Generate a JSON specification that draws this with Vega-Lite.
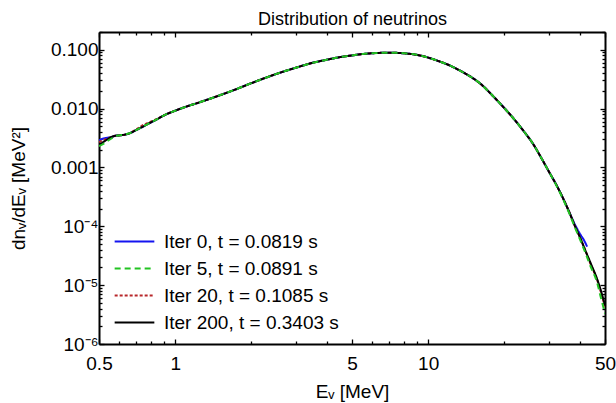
{
  "$schema": "https://vega.github.io/schema/vega-lite/v6.json",
  "width": 506,
  "height": 312,
  "autosize": {"type": "none"},
  "padding": {"left": 99, "top": 32, "right": 11, "bottom": 59},
  "background": "white",
  "config": {
    "font": "Liberation Sans",
    "view": {"stroke": null},
    "axis": {
      "grid": false,
      "domainColor": "black",
      "domainWidth": 2,
      "tickColor": "black",
      "tickWidth": 1.3,
      "labelFont": "Liberation Sans",
      "labelFontSize": 19,
      "labelColor": "black",
      "titleFont": "Liberation Sans",
      "titleFontSize": 19,
      "titleFontWeight": "normal",
      "titleColor": "black",
      "labelOverlap": false,
      "labelFlush": false
    },
    "legend": {
      "labelFont": "Liberation Sans",
      "labelFontSize": 19,
      "labelColor": "black",
      "labelLimit": 400
    }
  },
  "data": {
    "values": [
      {"s": "Iter 0, t = 0.0819 s", "E": 0.5, "v": 0.0029},
      {"s": "Iter 0, t = 0.0819 s", "E": 0.52, "v": 0.0031},
      {"s": "Iter 0, t = 0.0819 s", "E": 0.54, "v": 0.0032},
      {"s": "Iter 0, t = 0.0819 s", "E": 0.56, "v": 0.0033},
      {"s": "Iter 0, t = 0.0819 s", "E": 0.58, "v": 0.00345},
      {"s": "Iter 0, t = 0.0819 s", "E": 0.6, "v": 0.0035},
      {"s": "Iter 0, t = 0.0819 s", "E": 0.63, "v": 0.0036},
      {"s": "Iter 0, t = 0.0819 s", "E": 0.66, "v": 0.0038},
      {"s": "Iter 0, t = 0.0819 s", "E": 0.7, "v": 0.0043},
      {"s": "Iter 0, t = 0.0819 s", "E": 0.75, "v": 0.005},
      {"s": "Iter 0, t = 0.0819 s", "E": 0.8, "v": 0.0058},
      {"s": "Iter 0, t = 0.0819 s", "E": 0.85, "v": 0.0066},
      {"s": "Iter 0, t = 0.0819 s", "E": 0.9, "v": 0.0076},
      {"s": "Iter 0, t = 0.0819 s", "E": 1.0, "v": 0.0092},
      {"s": "Iter 0, t = 0.0819 s", "E": 1.1, "v": 0.0107},
      {"s": "Iter 0, t = 0.0819 s", "E": 1.25, "v": 0.0128},
      {"s": "Iter 0, t = 0.0819 s", "E": 1.5, "v": 0.0168},
      {"s": "Iter 0, t = 0.0819 s", "E": 1.75, "v": 0.0215},
      {"s": "Iter 0, t = 0.0819 s", "E": 2.0, "v": 0.027},
      {"s": "Iter 0, t = 0.0819 s", "E": 2.5, "v": 0.0385},
      {"s": "Iter 0, t = 0.0819 s", "E": 3.0, "v": 0.0495},
      {"s": "Iter 0, t = 0.0819 s", "E": 3.5, "v": 0.06},
      {"s": "Iter 0, t = 0.0819 s", "E": 4.0, "v": 0.068},
      {"s": "Iter 0, t = 0.0819 s", "E": 4.5, "v": 0.075},
      {"s": "Iter 0, t = 0.0819 s", "E": 5.0, "v": 0.08},
      {"s": "Iter 0, t = 0.0819 s", "E": 5.5, "v": 0.0845},
      {"s": "Iter 0, t = 0.0819 s", "E": 6.0, "v": 0.087},
      {"s": "Iter 0, t = 0.0819 s", "E": 6.5, "v": 0.0885},
      {"s": "Iter 0, t = 0.0819 s", "E": 7.0, "v": 0.089},
      {"s": "Iter 0, t = 0.0819 s", "E": 7.5, "v": 0.0885},
      {"s": "Iter 0, t = 0.0819 s", "E": 8.0, "v": 0.087},
      {"s": "Iter 0, t = 0.0819 s", "E": 9.0, "v": 0.082},
      {"s": "Iter 0, t = 0.0819 s", "E": 10, "v": 0.0735},
      {"s": "Iter 0, t = 0.0819 s", "E": 11, "v": 0.064},
      {"s": "Iter 0, t = 0.0819 s", "E": 12, "v": 0.0555},
      {"s": "Iter 0, t = 0.0819 s", "E": 13, "v": 0.047},
      {"s": "Iter 0, t = 0.0819 s", "E": 14, "v": 0.0395},
      {"s": "Iter 0, t = 0.0819 s", "E": 15, "v": 0.033},
      {"s": "Iter 0, t = 0.0819 s", "E": 16, "v": 0.027},
      {"s": "Iter 0, t = 0.0819 s", "E": 18, "v": 0.0165},
      {"s": "Iter 0, t = 0.0819 s", "E": 20, "v": 0.0102},
      {"s": "Iter 0, t = 0.0819 s", "E": 22, "v": 0.0064},
      {"s": "Iter 0, t = 0.0819 s", "E": 24, "v": 0.004},
      {"s": "Iter 0, t = 0.0819 s", "E": 26, "v": 0.0025},
      {"s": "Iter 0, t = 0.0819 s", "E": 28, "v": 0.00145},
      {"s": "Iter 0, t = 0.0819 s", "E": 30, "v": 0.00085},
      {"s": "Iter 0, t = 0.0819 s", "E": 32, "v": 0.00052},
      {"s": "Iter 0, t = 0.0819 s", "E": 34, "v": 0.00031},
      {"s": "Iter 0, t = 0.0819 s", "E": 36, "v": 0.00018},
      {"s": "Iter 0, t = 0.0819 s", "E": 38, "v": 0.000108},
      {"s": "Iter 0, t = 0.0819 s", "E": 40, "v": 0.000072},
      {"s": "Iter 0, t = 0.0819 s", "E": 41.3, "v": 0.000058},
      {"s": "Iter 0, t = 0.0819 s", "E": 42.5, "v": 0.000045},

      {"s": "Iter 20, t = 0.1085 s", "E": 0.5, "v": 0.0027},
      {"s": "Iter 20, t = 0.1085 s", "E": 0.52, "v": 0.0029},
      {"s": "Iter 20, t = 0.1085 s", "E": 0.54, "v": 0.0031},
      {"s": "Iter 20, t = 0.1085 s", "E": 0.56, "v": 0.0033},
      {"s": "Iter 20, t = 0.1085 s", "E": 0.58, "v": 0.00345},
      {"s": "Iter 20, t = 0.1085 s", "E": 0.6, "v": 0.0035},
      {"s": "Iter 20, t = 0.1085 s", "E": 0.63, "v": 0.0036},
      {"s": "Iter 20, t = 0.1085 s", "E": 0.66, "v": 0.0038},
      {"s": "Iter 20, t = 0.1085 s", "E": 0.7, "v": 0.0044},
      {"s": "Iter 20, t = 0.1085 s", "E": 0.75, "v": 0.0053},
      {"s": "Iter 20, t = 0.1085 s", "E": 0.8, "v": 0.006},
      {"s": "Iter 20, t = 0.1085 s", "E": 0.85, "v": 0.0067},
      {"s": "Iter 20, t = 0.1085 s", "E": 0.9, "v": 0.0076},
      {"s": "Iter 20, t = 0.1085 s", "E": 1.0, "v": 0.0092},
      {"s": "Iter 20, t = 0.1085 s", "E": 1.1, "v": 0.0107},
      {"s": "Iter 20, t = 0.1085 s", "E": 1.25, "v": 0.0128},
      {"s": "Iter 20, t = 0.1085 s", "E": 1.5, "v": 0.0168},
      {"s": "Iter 20, t = 0.1085 s", "E": 1.75, "v": 0.0215},
      {"s": "Iter 20, t = 0.1085 s", "E": 2.0, "v": 0.027},
      {"s": "Iter 20, t = 0.1085 s", "E": 2.5, "v": 0.0385},
      {"s": "Iter 20, t = 0.1085 s", "E": 3.0, "v": 0.0495},
      {"s": "Iter 20, t = 0.1085 s", "E": 3.5, "v": 0.06},
      {"s": "Iter 20, t = 0.1085 s", "E": 4.0, "v": 0.068},
      {"s": "Iter 20, t = 0.1085 s", "E": 4.5, "v": 0.075},
      {"s": "Iter 20, t = 0.1085 s", "E": 5.0, "v": 0.08},
      {"s": "Iter 20, t = 0.1085 s", "E": 5.5, "v": 0.0845},
      {"s": "Iter 20, t = 0.1085 s", "E": 6.0, "v": 0.087},
      {"s": "Iter 20, t = 0.1085 s", "E": 6.5, "v": 0.0885},
      {"s": "Iter 20, t = 0.1085 s", "E": 7.0, "v": 0.089},
      {"s": "Iter 20, t = 0.1085 s", "E": 7.5, "v": 0.0885},
      {"s": "Iter 20, t = 0.1085 s", "E": 8.0, "v": 0.087},
      {"s": "Iter 20, t = 0.1085 s", "E": 9.0, "v": 0.082},
      {"s": "Iter 20, t = 0.1085 s", "E": 10, "v": 0.0735},
      {"s": "Iter 20, t = 0.1085 s", "E": 11, "v": 0.064},
      {"s": "Iter 20, t = 0.1085 s", "E": 12, "v": 0.0555},
      {"s": "Iter 20, t = 0.1085 s", "E": 13, "v": 0.047},
      {"s": "Iter 20, t = 0.1085 s", "E": 14, "v": 0.0395},
      {"s": "Iter 20, t = 0.1085 s", "E": 15, "v": 0.033},
      {"s": "Iter 20, t = 0.1085 s", "E": 16, "v": 0.027},
      {"s": "Iter 20, t = 0.1085 s", "E": 18, "v": 0.0165},
      {"s": "Iter 20, t = 0.1085 s", "E": 20, "v": 0.0102},
      {"s": "Iter 20, t = 0.1085 s", "E": 22, "v": 0.0064},
      {"s": "Iter 20, t = 0.1085 s", "E": 24, "v": 0.004},
      {"s": "Iter 20, t = 0.1085 s", "E": 26, "v": 0.0025},
      {"s": "Iter 20, t = 0.1085 s", "E": 28, "v": 0.00145},
      {"s": "Iter 20, t = 0.1085 s", "E": 30, "v": 0.00085},
      {"s": "Iter 20, t = 0.1085 s", "E": 32, "v": 0.00052},
      {"s": "Iter 20, t = 0.1085 s", "E": 34, "v": 0.00031},
      {"s": "Iter 20, t = 0.1085 s", "E": 36, "v": 0.00018},
      {"s": "Iter 20, t = 0.1085 s", "E": 38, "v": 0.000102},
      {"s": "Iter 20, t = 0.1085 s", "E": 40, "v": 0.000062},
      {"s": "Iter 20, t = 0.1085 s", "E": 42, "v": 0.000037},
      {"s": "Iter 20, t = 0.1085 s", "E": 44, "v": 0.000022},
      {"s": "Iter 20, t = 0.1085 s", "E": 46.5, "v": 0.0000125},
      {"s": "Iter 20, t = 0.1085 s", "E": 48, "v": 0.000008},
      {"s": "Iter 20, t = 0.1085 s", "E": 50, "v": 0.0000043},

      {"s": "Iter 200, t = 0.3403 s", "E": 0.5, "v": 0.0024},
      {"s": "Iter 200, t = 0.3403 s", "E": 0.52, "v": 0.0027},
      {"s": "Iter 200, t = 0.3403 s", "E": 0.54, "v": 0.003},
      {"s": "Iter 200, t = 0.3403 s", "E": 0.56, "v": 0.0033},
      {"s": "Iter 200, t = 0.3403 s", "E": 0.58, "v": 0.00345},
      {"s": "Iter 200, t = 0.3403 s", "E": 0.6, "v": 0.0035},
      {"s": "Iter 200, t = 0.3403 s", "E": 0.63, "v": 0.0036},
      {"s": "Iter 200, t = 0.3403 s", "E": 0.66, "v": 0.0038},
      {"s": "Iter 200, t = 0.3403 s", "E": 0.7, "v": 0.0043},
      {"s": "Iter 200, t = 0.3403 s", "E": 0.75, "v": 0.005},
      {"s": "Iter 200, t = 0.3403 s", "E": 0.8, "v": 0.0058},
      {"s": "Iter 200, t = 0.3403 s", "E": 0.85, "v": 0.0066},
      {"s": "Iter 200, t = 0.3403 s", "E": 0.9, "v": 0.0076},
      {"s": "Iter 200, t = 0.3403 s", "E": 1.0, "v": 0.0092},
      {"s": "Iter 200, t = 0.3403 s", "E": 1.1, "v": 0.0107},
      {"s": "Iter 200, t = 0.3403 s", "E": 1.25, "v": 0.0128},
      {"s": "Iter 200, t = 0.3403 s", "E": 1.5, "v": 0.0168},
      {"s": "Iter 200, t = 0.3403 s", "E": 1.75, "v": 0.0215},
      {"s": "Iter 200, t = 0.3403 s", "E": 2.0, "v": 0.027},
      {"s": "Iter 200, t = 0.3403 s", "E": 2.5, "v": 0.0385},
      {"s": "Iter 200, t = 0.3403 s", "E": 3.0, "v": 0.0495},
      {"s": "Iter 200, t = 0.3403 s", "E": 3.5, "v": 0.06},
      {"s": "Iter 200, t = 0.3403 s", "E": 4.0, "v": 0.068},
      {"s": "Iter 200, t = 0.3403 s", "E": 4.5, "v": 0.075},
      {"s": "Iter 200, t = 0.3403 s", "E": 5.0, "v": 0.08},
      {"s": "Iter 200, t = 0.3403 s", "E": 5.5, "v": 0.0845},
      {"s": "Iter 200, t = 0.3403 s", "E": 6.0, "v": 0.087},
      {"s": "Iter 200, t = 0.3403 s", "E": 6.5, "v": 0.0885},
      {"s": "Iter 200, t = 0.3403 s", "E": 7.0, "v": 0.089},
      {"s": "Iter 200, t = 0.3403 s", "E": 7.5, "v": 0.0885},
      {"s": "Iter 200, t = 0.3403 s", "E": 8.0, "v": 0.087},
      {"s": "Iter 200, t = 0.3403 s", "E": 9.0, "v": 0.082},
      {"s": "Iter 200, t = 0.3403 s", "E": 10, "v": 0.0735},
      {"s": "Iter 200, t = 0.3403 s", "E": 11, "v": 0.064},
      {"s": "Iter 200, t = 0.3403 s", "E": 12, "v": 0.0555},
      {"s": "Iter 200, t = 0.3403 s", "E": 13, "v": 0.047},
      {"s": "Iter 200, t = 0.3403 s", "E": 14, "v": 0.0395},
      {"s": "Iter 200, t = 0.3403 s", "E": 15, "v": 0.033},
      {"s": "Iter 200, t = 0.3403 s", "E": 16, "v": 0.027},
      {"s": "Iter 200, t = 0.3403 s", "E": 18, "v": 0.0165},
      {"s": "Iter 200, t = 0.3403 s", "E": 20, "v": 0.0102},
      {"s": "Iter 200, t = 0.3403 s", "E": 22, "v": 0.0064},
      {"s": "Iter 200, t = 0.3403 s", "E": 24, "v": 0.004},
      {"s": "Iter 200, t = 0.3403 s", "E": 26, "v": 0.0025},
      {"s": "Iter 200, t = 0.3403 s", "E": 28, "v": 0.00145},
      {"s": "Iter 200, t = 0.3403 s", "E": 30, "v": 0.00085},
      {"s": "Iter 200, t = 0.3403 s", "E": 32, "v": 0.00052},
      {"s": "Iter 200, t = 0.3403 s", "E": 34, "v": 0.00031},
      {"s": "Iter 200, t = 0.3403 s", "E": 36, "v": 0.00018},
      {"s": "Iter 200, t = 0.3403 s", "E": 38, "v": 0.000102},
      {"s": "Iter 200, t = 0.3403 s", "E": 40, "v": 0.000062},
      {"s": "Iter 200, t = 0.3403 s", "E": 42, "v": 0.000037},
      {"s": "Iter 200, t = 0.3403 s", "E": 44, "v": 0.000023},
      {"s": "Iter 200, t = 0.3403 s", "E": 46.5, "v": 0.0000128},
      {"s": "Iter 200, t = 0.3403 s", "E": 48, "v": 0.0000085},
      {"s": "Iter 200, t = 0.3403 s", "E": 50, "v": 0.0000045},

      {"s": "Iter 5, t = 0.0891 s", "E": 0.5, "v": 0.0023},
      {"s": "Iter 5, t = 0.0891 s", "E": 0.52, "v": 0.0025},
      {"s": "Iter 5, t = 0.0891 s", "E": 0.54, "v": 0.0028},
      {"s": "Iter 5, t = 0.0891 s", "E": 0.56, "v": 0.0031},
      {"s": "Iter 5, t = 0.0891 s", "E": 0.58, "v": 0.0034},
      {"s": "Iter 5, t = 0.0891 s", "E": 0.6, "v": 0.0035},
      {"s": "Iter 5, t = 0.0891 s", "E": 0.63, "v": 0.0036},
      {"s": "Iter 5, t = 0.0891 s", "E": 0.66, "v": 0.0038},
      {"s": "Iter 5, t = 0.0891 s", "E": 0.7, "v": 0.0043},
      {"s": "Iter 5, t = 0.0891 s", "E": 0.75, "v": 0.005},
      {"s": "Iter 5, t = 0.0891 s", "E": 0.8, "v": 0.0058},
      {"s": "Iter 5, t = 0.0891 s", "E": 0.85, "v": 0.0066},
      {"s": "Iter 5, t = 0.0891 s", "E": 0.9, "v": 0.0076},
      {"s": "Iter 5, t = 0.0891 s", "E": 1.0, "v": 0.0092},
      {"s": "Iter 5, t = 0.0891 s", "E": 1.1, "v": 0.0107},
      {"s": "Iter 5, t = 0.0891 s", "E": 1.25, "v": 0.0128},
      {"s": "Iter 5, t = 0.0891 s", "E": 1.5, "v": 0.0168},
      {"s": "Iter 5, t = 0.0891 s", "E": 1.75, "v": 0.0215},
      {"s": "Iter 5, t = 0.0891 s", "E": 2.0, "v": 0.027},
      {"s": "Iter 5, t = 0.0891 s", "E": 2.5, "v": 0.0385},
      {"s": "Iter 5, t = 0.0891 s", "E": 3.0, "v": 0.0495},
      {"s": "Iter 5, t = 0.0891 s", "E": 3.5, "v": 0.06},
      {"s": "Iter 5, t = 0.0891 s", "E": 4.0, "v": 0.068},
      {"s": "Iter 5, t = 0.0891 s", "E": 4.5, "v": 0.075},
      {"s": "Iter 5, t = 0.0891 s", "E": 5.0, "v": 0.08},
      {"s": "Iter 5, t = 0.0891 s", "E": 5.5, "v": 0.0845},
      {"s": "Iter 5, t = 0.0891 s", "E": 6.0, "v": 0.087},
      {"s": "Iter 5, t = 0.0891 s", "E": 6.5, "v": 0.0885},
      {"s": "Iter 5, t = 0.0891 s", "E": 7.0, "v": 0.089},
      {"s": "Iter 5, t = 0.0891 s", "E": 7.5, "v": 0.0885},
      {"s": "Iter 5, t = 0.0891 s", "E": 8.0, "v": 0.087},
      {"s": "Iter 5, t = 0.0891 s", "E": 9.0, "v": 0.082},
      {"s": "Iter 5, t = 0.0891 s", "E": 10, "v": 0.0735},
      {"s": "Iter 5, t = 0.0891 s", "E": 11, "v": 0.064},
      {"s": "Iter 5, t = 0.0891 s", "E": 12, "v": 0.0555},
      {"s": "Iter 5, t = 0.0891 s", "E": 13, "v": 0.047},
      {"s": "Iter 5, t = 0.0891 s", "E": 14, "v": 0.0395},
      {"s": "Iter 5, t = 0.0891 s", "E": 15, "v": 0.033},
      {"s": "Iter 5, t = 0.0891 s", "E": 16, "v": 0.027},
      {"s": "Iter 5, t = 0.0891 s", "E": 18, "v": 0.0165},
      {"s": "Iter 5, t = 0.0891 s", "E": 20, "v": 0.0102},
      {"s": "Iter 5, t = 0.0891 s", "E": 22, "v": 0.0064},
      {"s": "Iter 5, t = 0.0891 s", "E": 24, "v": 0.004},
      {"s": "Iter 5, t = 0.0891 s", "E": 26, "v": 0.0025},
      {"s": "Iter 5, t = 0.0891 s", "E": 28, "v": 0.00145},
      {"s": "Iter 5, t = 0.0891 s", "E": 30, "v": 0.00085},
      {"s": "Iter 5, t = 0.0891 s", "E": 32, "v": 0.00051},
      {"s": "Iter 5, t = 0.0891 s", "E": 34, "v": 0.0003},
      {"s": "Iter 5, t = 0.0891 s", "E": 36, "v": 0.000172},
      {"s": "Iter 5, t = 0.0891 s", "E": 38, "v": 0.000096},
      {"s": "Iter 5, t = 0.0891 s", "E": 40, "v": 0.000057},
      {"s": "Iter 5, t = 0.0891 s", "E": 42, "v": 0.000034},
      {"s": "Iter 5, t = 0.0891 s", "E": 44, "v": 0.00002},
      {"s": "Iter 5, t = 0.0891 s", "E": 46.5, "v": 0.0000112},
      {"s": "Iter 5, t = 0.0891 s", "E": 48, "v": 0.0000065},
      {"s": "Iter 5, t = 0.0891 s", "E": 50, "v": 0.0000033}
    ]
  },
  "resolve": {"axis": {"x": "independent", "y": "independent"}},
  "layer": [
    {
      "transform": [{"filter": "datum.s == 'Iter 0, t = 0.0819 s'"}],
      "mark": {"type": "line", "strokeWidth": 2, "clip": true, "interpolate": "monotone"},
      "encoding": {
        "x": {"field": "E", "type": "quantitative",
          "scale": {"type": "log", "domain": [0.5, 50], "nice": false},
          "axis": {"orient": "bottom", "title": "Eᵥ [MeV]",
            "values": [0.5,0.6,0.7,0.8,0.9,1,2,3,4,5,6,7,8,9,10,20,30,40,50],
            "labelExpr": "indexof([0.5,1,5,10,50], datum.value) >= 0 ? '' + datum.value : ''",
            "tickSize": {"condition": {"test": "indexof([0.5,1,5,10,50], datum.value) >= 0", "value": -5}, "value": -3},
            "labelPadding": 15,
            "titleBaseline": "alphabetic", "titleY": 53}},
        "y": {"field": "v", "type": "quantitative",
          "scale": {"type": "log", "domain": [0.000001, 0.2], "nice": false},
          "axis": {"orient": "left", "title": "dnᵥ/dEᵥ [MeV²]",
            "values": [0.000001,0.000002,0.000003,0.000004,0.000005,0.000006,0.000007,0.000008,0.000009,0.00001,0.00002,0.00003,0.00004,0.00005,0.00006,0.00007,0.00008,0.00009,0.0001,0.0002,0.0003,0.0004,0.0005,0.0006,0.0007,0.0008,0.0009,0.001,0.002,0.003,0.004,0.005,0.006,0.007,0.008,0.009,0.01,0.02,0.03,0.04,0.05,0.06,0.07,0.08,0.09,0.1,0.2],
            "labelExpr": "datum.value == 0.1 ? '0.100' : datum.value == 0.01 ? '0.010' : datum.value == 0.001 ? '0.001' : datum.value == 0.0001 ? '10⁻⁴' : datum.value == 0.00001 ? '10⁻⁵' : datum.value == 0.000001 ? '10⁻⁶' : ''",
            "tickSize": {"condition": {"test": "indexof([0.000001,0.00001,0.0001,0.001,0.01,0.1], datum.value) >= 0", "value": -5}, "value": -3},
            "labelPadding": 6,
            "titleBaseline": "alphabetic", "titleX": -75}},
        "color": {"field": "s", "type": "nominal",
          "scale": {"domain": ["Iter 0, t = 0.0819 s", "Iter 5, t = 0.0891 s", "Iter 20, t = 0.1085 s", "Iter 200, t = 0.3403 s"],
                    "range": ["#1414f0", "#22c422", "#b8272a", "#000000"]},
          "legend": {"orient": "none", "legendX": 21, "legendY": 195, "title": null,
            "symbolType": "M-1.5,0H1.5", "symbolSize": 700, "symbolStrokeWidth": 2,
            "rowPadding": 2, "labelOffset": 15, "padding": 0}},
        "strokeDash": {"field": "s", "type": "nominal",
          "scale": {"domain": ["Iter 0, t = 0.0819 s", "Iter 5, t = 0.0891 s", "Iter 20, t = 0.1085 s", "Iter 200, t = 0.3403 s"],
                    "range": [[1, 0], [6, 4], [3, 2], [1, 0]]},
          "legend": {"orient": "none", "legendX": 21, "legendY": 195, "title": null,
            "symbolType": "M-1.5,0H1.5", "symbolSize": 700, "symbolStrokeWidth": 2,
            "rowPadding": 2, "labelOffset": 15, "padding": 0}}
      }
    },
    {
      "transform": [{"filter": "datum.s == 'Iter 20, t = 0.1085 s'"}],
      "mark": {"type": "line", "strokeWidth": 2, "clip": true, "interpolate": "monotone"},
      "encoding": {
        "x": {"field": "E", "type": "quantitative", "axis": null},
        "y": {"field": "v", "type": "quantitative", "axis": null},
        "color": {"field": "s", "type": "nominal"},
        "strokeDash": {"field": "s", "type": "nominal"}
      }
    },
    {
      "transform": [{"filter": "datum.s == 'Iter 200, t = 0.3403 s'"}],
      "mark": {"type": "line", "strokeWidth": 2, "clip": true, "interpolate": "monotone"},
      "encoding": {
        "x": {"field": "E", "type": "quantitative", "axis": null},
        "y": {"field": "v", "type": "quantitative", "axis": null},
        "color": {"field": "s", "type": "nominal"},
        "strokeDash": {"field": "s", "type": "nominal"}
      }
    },
    {
      "transform": [{"filter": "datum.s == 'Iter 5, t = 0.0891 s'"}],
      "mark": {"type": "line", "strokeWidth": 2, "clip": true, "interpolate": "monotone"},
      "encoding": {
        "x": {"field": "E", "type": "quantitative",
          "axis": {"orient": "top", "title": "Distribution of neutrinos", "labels": false,
            "titleFontSize": 18, "titleBaseline": "alphabetic", "titleY": -8,
            "values": [0.5,0.6,0.7,0.8,0.9,1,2,3,4,5,6,7,8,9,10,20,30,40,50],
            "tickSize": {"condition": {"test": "indexof([0.5,1,5,10,50], datum.value) >= 0", "value": -5}, "value": -3}}},
        "y": {"field": "v", "type": "quantitative",
          "axis": {"orient": "right", "title": null, "labels": false,
            "values": [0.000001,0.000002,0.000003,0.000004,0.000005,0.000006,0.000007,0.000008,0.000009,0.00001,0.00002,0.00003,0.00004,0.00005,0.00006,0.00007,0.00008,0.00009,0.0001,0.0002,0.0003,0.0004,0.0005,0.0006,0.0007,0.0008,0.0009,0.001,0.002,0.003,0.004,0.005,0.006,0.007,0.008,0.009,0.01,0.02,0.03,0.04,0.05,0.06,0.07,0.08,0.09,0.1,0.2],
            "tickSize": {"condition": {"test": "indexof([0.000001,0.00001,0.0001,0.001,0.01,0.1], datum.value) >= 0", "value": -5}, "value": -3}}},
        "color": {"field": "s", "type": "nominal"},
        "strokeDash": {"field": "s", "type": "nominal"}
      }
    }
  ]
}
